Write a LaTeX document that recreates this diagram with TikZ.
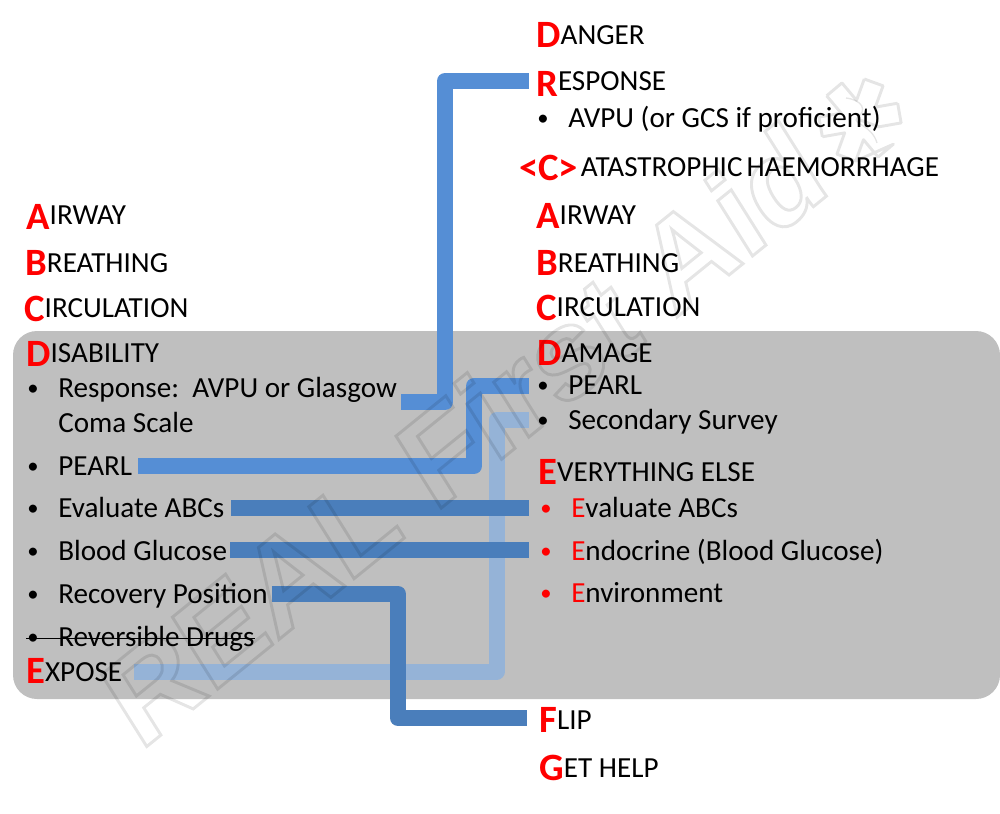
\documentclass[tikz,border=0pt]{standalone}
\usepackage{fontspec}
\setmainfont{Carlito}
\newfontfamily\markfont[FakeSlant=0.12,FakeStretch=1.03]{Liberation Sans Bold}
\definecolor{boxgrey}{HTML}{BFBFBF}
\definecolor{lineA}{HTML}{558ED5}
\definecolor{lineB}{HTML}{4A7EBB}
\definecolor{lineC}{HTML}{95B3D7}
% big red initial, rest of the word raised by #1 px
\newcommand{\ltr}[3][3]{{\fontsize{29}{29}\selectfont\bfseries\color{red}#2}\raisebox{#1\dimexpr0.75pt\relax}{#3}}
\newcommand{\dotm}{\raisebox{1.3pt}{\fontsize{17}{17}\selectfont •}}
\newcommand{\blt}{\makebox[23.25pt][l]{\dotm}}
\newcommand{\rbl}[1]{\makebox[23.25pt][l]{\color{red}\dotm}\textcolor{red}{#1}}
\tikzset{
  lab/.style={anchor=base west,inner sep=0pt,font=\fontsize{21.85}{21.85}\selectfont},
  conn/.style={line width=12pt,line join=round},
}
\begin{document}
\begin{tikzpicture}[x=0.75pt,y=-0.75pt]
  \useasboundingbox (0,0) rectangle (1000,814);
  \fill[boxgrey,rounded corners=18pt] (13,331) rectangle (1000,699);

  % left column
  \node[lab] (lAirway) at (26,229) {\ltr[5]{A}{IRWAY}};
  \node[lab] (lBreath) at (25,275) {\ltr{B}{REATHING}};
  \node[lab] (lCirc) at (24,321) {\ltr[4]{C}{IRCULATION}};
  \node[lab] (lDisab) at (26,366) {\ltr[4]{D}{ISABILITY}};
  \node[lab] (lResp) at (27,397) {\blt Response:\ \ AVPU or Glasgow};
  \node[lab] (lComa) at (58,432) {Coma Scale};
  \node[lab] (lPearl) at (27,475) {\blt PEARL};
  \node[lab] (lEval) at (27,517) {\blt Evaluate ABCs};
  \node[lab] (lBlood) at (27,560) {\blt Blood Glucose};
  \node[lab] (lRecov) at (27,603) {\blt Recovery Position};
  \node[lab] (lDrugs) at (27,646) {\blt Reversible Drugs};
  \node[lab] (lExpose) at (26,683) {\ltr[2]{E}{XPOSE}};

  % right column
  \node[lab] (rDanger) at (536,47) {\ltr{D}{ANGER}};
  \node[lab] (rResp) at (536,96) {\ltr[6]{R}{ESPONSE}};
  \node[lab] (rAvpu) at (537,127) {\blt AVPU (or GCS if proficient)};
  \node[lab] (rCat) at (519,180) {\ltr[4]{<C>}{\hspace{2pt}ATASTROPHIC\hspace{3pt}HAEMORRHAGE}};
  \node[lab] (rAirway) at (536,228) {\ltr[4]{A}{IRWAY}};
  \node[lab] (rBreath) at (536,275) {\ltr{B}{REATHING}};
  \node[lab] (rCirc) at (536,320) {\ltr[4]{C}{IRCULATION}};
  \node[lab] (rDamage) at (537,365) {\ltr{D}{AMAGE}};
  \node[lab] (rPearl) at (537,394) {\blt PEARL};
  \node[lab] (rSecond) at (537,429) {\blt Secondary Survey};
  \node[lab] (rElse) at (538,484) {\ltr{E}{VERYTHING\hspace{5pt}ELSE}};
  \node[lab] (rEval) at (540,517) {\rbl{E}valuate ABCs};
  \node[lab] (rEndo) at (540,560) {\rbl{E}ndocrine (Blood Glucose)};
  \node[lab] (rEnv) at (540,602) {\rbl{E}nvironment};
  \node[lab] (rFlip) at (539,732) {\ltr{F}{LIP}};
  \node[lab] (rHelp) at (539,780) {\ltr{G}{ET HELP}};

  \draw (26,638) -- (lDrugs.base east |- 26,638);

  % bends
  \coordinate (bendResp) at (445,81);
  \coordinate (bendPearl) at (474,386);
  \coordinate (bendExp) at (496.5,420);
  \coordinate (bendRec) at (398,718);

  \draw[conn,lineC] ([shift={(12,-11.5)}]lExpose.base east) -| (bendExp) -- ([shift={(-8,-9)}]rSecond.base west);
  \draw[conn,lineA] ([shift={(4,5)}]lResp.base east) -| (bendResp) -- ([shift={(-7,-15)}]rResp.base west);
  \draw[conn,lineA] ([shift={(6,-9)}]lPearl.base east) -| (bendPearl) -- ([shift={(-8,-8)}]rPearl.base west);
  \draw[conn,lineB] ([shift={(6.5,-9)}]lEval.base east) -- ([shift={(-11,-9)}]rEval.base west);
  \draw[conn,lineB] ([shift={(3,-10)}]lBlood.base east) -- ([shift={(-11,-10)}]rEndo.base west);
  \draw[conn,lineB] ([shift={(4,-9)}]lRecov.base east) -| (bendRec) -- ([shift={(-12,-14)}]rFlip.base west);

  % watermark
  \begin{scope}[draw opacity=0.1]
    \node[anchor=base west,inner sep=0pt,rotate=39] (mark) at (140,752)
      {\special{pdf:code 1 Tr 2.2 w 0 G}\markfont\fontsize{92}{92}\selectfont REAL First Aid\special{pdf:code 0 Tr}};
    \draw[line width=2.2pt,line join=round] (860,120)
      \foreach \k in {0,...,5} {
        ++(0,0) -- ({860+2*10*cos(10+60*\k-30)},{120-2*10*sin(10+60*\k-30)})
        -- ({860+40*cos(10+60*\k)+10*sin(10+60*\k)},{120-40*sin(10+60*\k)+10*cos(10+60*\k)})
        -- ({860+40*cos(10+60*\k)-10*sin(10+60*\k)},{120-40*sin(10+60*\k)-10*cos(10+60*\k)})
      } -- cycle;
    \draw[line width=1pt] (846,98) .. controls (862,100) and (868,110) .. (857,118) .. controls (852,124) and (872,125) .. (877,143);
  \end{scope}
\end{tikzpicture}
\end{document}
